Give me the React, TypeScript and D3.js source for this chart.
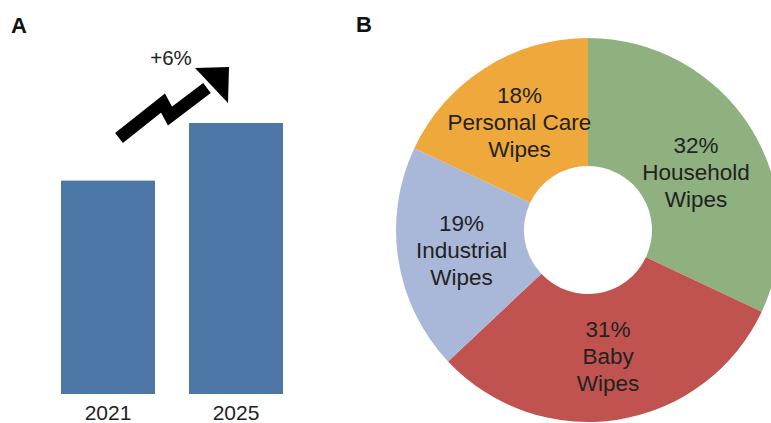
import { useEffect, useRef } from "react";
import * as d3 from "d3";

// Panel A: market size (relative), 2021 vs 2025
const YEARS = ["2021", "2025"];
const MARKET = [100, 127];
const GROWTH_LABEL = "+6%";

// Panel B: share by wipe type
const SEGMENTS = ["Household Wipes", "Baby Wipes", "Industrial Wipes", "Personal Care Wipes"];
const SHARES = [32, 31, 19, 18];
const SEG_COLORS = ["#8fb07f", "#c0534f", "#a9b8d9", "#eea83b"];
const SEG_LINES = [["Household", "Wipes"], ["Baby", "Wipes"], ["Industrial", "Wipes"], ["Personal Care", "Wipes"]];

const FONT = "'Liberation Sans', Arial, Helvetica, sans-serif";

export default function App() {
  const svgRef = useRef<SVGSVGElement | null>(null);

  useEffect(() => {
    if (!svgRef.current) return;
    const W = 771, H = 423;
    const svg = d3.select(svgRef.current);
    svg.selectAll("*").remove();
    svg.attr("width", W).attr("height", H).style("font-family", FONT);

    // panel letters
    svg.append("text").attr("x", 11).attr("y", 33).attr("font-size", 22).attr("font-weight", 700).attr("fill", "#111").text("A");
    svg.append("text").attr("x", 356).attr("y", 32).attr("font-size", 22).attr("font-weight", 700).attr("fill", "#111").text("B");

    // ---- bars
    const x = d3.scaleBand<string>().domain(YEARS).range([44, 300]).paddingInner(0.2656).paddingOuter(0.1328);
    const y = d3.scaleLinear().domain([0, 127]).range([394, 123]);

    svg.append("g").selectAll("rect")
      .data(YEARS)
      .join("rect")
      .attr("x", (d) => x(d)!)
      .attr("y", (d, i) => y(MARKET[i]))
      .attr("width", x.bandwidth())
      .attr("height", (d, i) => y(0) - y(MARKET[i]))
      .attr("fill", "#4d77a6");

    svg.append("g").selectAll("text")
      .data(YEARS)
      .join("text")
      .attr("x", (d) => x(d)! + x.bandwidth() / 2)
      .attr("y", 420)
      .attr("text-anchor", "middle")
      .attr("font-size", 21)
      .attr("fill", "#222")
      .text((d) => d);

    // growth arrow
    const line = d3.line();
    svg.append("path")
      .attr("d", line([[119, 138], [163, 103], [170, 116], [207, 88]]))
      .attr("fill", "none")
      .attr("stroke", "#000")
      .attr("stroke-width", 12.5)
      .attr("stroke-linejoin", "miter");
    svg.append("path")
      .attr("d", line([[195, 68], [229, 67], [228, 103]]) + "Z")
      .attr("fill", "#000");
    svg.append("text")
      .attr("x", 171).attr("y", 65)
      .attr("text-anchor", "middle")
      .attr("font-size", 20.5)
      .attr("fill", "#222")
      .text(GROWTH_LABEL);

    // ---- donut
    const cx = 588, cy = 230, R = 192, r0 = 64;
    const pie = d3.pie<number>().sort(null).value((d) => d);
    const arcs = pie(SHARES);
    const arc = d3.arc<d3.PieArcDatum<number>>().innerRadius(r0).outerRadius(R);
    const g = svg.append("g").attr("transform", `translate(${cx},${cy})`);
    g.selectAll("path")
      .data(arcs)
      .join("path")
      .attr("d", arc)
      .attr("fill", (d, i) => SEG_COLORS[i]);

    arcs.forEach((a, i) => {
      const [lx, ly0] = arc.centroid(a);
      const ly = i === 0 ? ly0 + 11 : ly0;
      const lines = [`${SHARES[i]}%`, ...SEG_LINES[i]];
      const t = g.append("text")
        .attr("text-anchor", "middle")
        .attr("font-size", 22.5)
        .attr("fill", "#222");
      lines.forEach((s, k) => {
        t.append("tspan")
          .attr("x", lx)
          .attr("y", ly + (k - 1) * 27 + 8)
          .text(s);
      });
    });
  }, []);

  return (
    <div style={{ position: "fixed", left: 0, top: 0, width: 771, height: 423, background: "#fff" }}>
      <svg ref={svgRef} style={{ display: "block" }} />
    </div>
  );
}
